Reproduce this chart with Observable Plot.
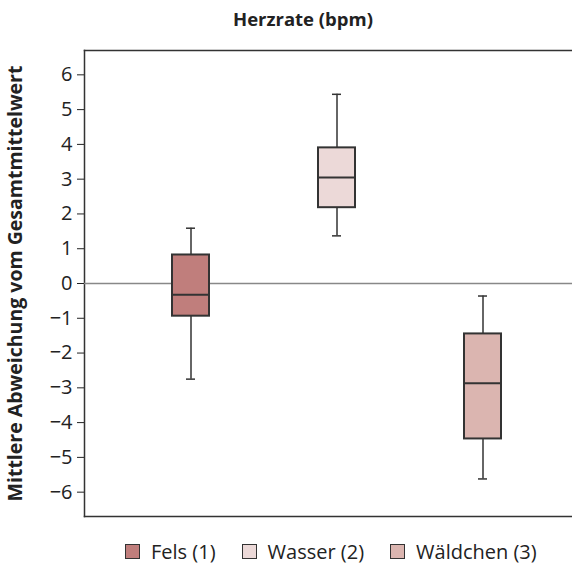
<!DOCTYPE html>
<html>
<head>
<meta charset="utf-8">
<script src="https://cdn.jsdelivr.net/npm/d3@7"></script>
<script src="https://cdn.jsdelivr.net/npm/@observablehq/plot@0.6"></script>
<style>
  html, body { margin: 0; padding: 0; background: #fff; overflow: hidden; }
  body { width: 572px; height: 566px; font-family: "Open Sans", Lato, sans-serif; color: #222; }
  #title { height: 40px; box-sizing: border-box; padding-top: 6px; padding-left: 34px; text-align: center; font-weight: bold; font-size: 18.5px; }
  #legend { display: flex; align-items: center; padding-left: 125px; margin-top: 12px; font-size: 20px; }
  .item { display: flex; align-items: center; margin-right: 26px; }
  .sw { width: 13px; height: 13px; border: 1px solid #333; margin-right: 11px; }
</style>
</head>
<body>
<div id="title">Herzrate (bpm)</div>
<div id="chart"></div>
<div id="legend"></div>
<script>
const categories = ["Fels (1)", "Wasser (2)", "Wäldchen (3)"];
const whiskerLow = [-2.75, 1.37, -5.62];
const q1 = [-0.94, 2.18, -4.47];
const median = [-0.32, 3.05, -2.87];
const q3 = [0.82, 3.90, -1.45];
const whiskerHigh = [1.59, 5.44, -0.36];
const colors = ["#c07e7c", "#ecd9d8", "#dbb5b0"];
const yTicks = [-6, -5, -4, -3, -2, -1, 0, 1, 2, 3, 4, 5, 6];
const yLabel = "Mittlere Abweichung vom Gesamtmittelwert";

const rows = categories.map((c, i) => ({
  cat: c, lo: whiskerLow[i], q1: q1[i], med: median[i], q3: q3[i], hi: whiskerHigh[i]
}));

const stroke = "#333";
const plot = Plot.plot({
  width: 572,
  height: 486,
  marginTop: 10,
  marginBottom: 10,
  marginLeft: 84,
  marginRight: 0,
  style: { fontFamily: "'Open Sans', Lato, sans-serif", fontSize: "20px", color: "#222" },
  x: { domain: categories, range: [171.5, 502], paddingInner: 0.748, paddingOuter: 0, axis: null },
  y: { domain: [-6.7, 6.7] },
  color: { domain: categories, range: colors },
  marks: [
    Plot.axisY({ ticks: yTicks, tickSize: 7, tickPadding: 5, fontSize: 20, label: yLabel, labelAnchor: "center", labelArrow: "none", labelOffset: 76 }),
    Plot.frame({ anchor: "left", stroke: stroke, strokeWidth: 1.5 }),
    Plot.frame({ anchor: "top", stroke: stroke, strokeWidth: 1.5 }),
    Plot.frame({ anchor: "bottom", stroke: stroke, strokeWidth: 1.5 }),
    Plot.ruleY([0], { stroke: "#888", strokeWidth: 1.5 }),
    Plot.ruleX(rows, { x: "cat", y1: "lo", y2: "hi", stroke: stroke, strokeWidth: 1.5 }),
    Plot.tickY(rows, { x: "cat", y: "lo", stroke: stroke, strokeWidth: 1.5, inset: 14 }),
    Plot.tickY(rows, { x: "cat", y: "hi", stroke: stroke, strokeWidth: 1.5, inset: 14 }),
    Plot.barY(rows, { x: "cat", y1: "q1", y2: "q3", fill: "cat", stroke: stroke, strokeWidth: 2 }),
    Plot.tickY(rows, { x: "cat", y: "med", stroke: stroke, strokeWidth: 2 })
  ]
});
plot.querySelectorAll('[aria-label="y-axis label"]').forEach(e => { e.setAttribute("font-weight", "bold"); e.setAttribute("font-size", "19.5px"); });
document.getElementById("chart").appendChild(plot);

const legend = document.getElementById("legend");
categories.forEach((c, i) => {
  const item = document.createElement("div");
  item.className = "item";
  const sw = document.createElement("div");
  sw.className = "sw";
  sw.style.background = colors[i];
  const t = document.createElement("span");
  t.textContent = c;
  item.appendChild(sw);
  item.appendChild(t);
  legend.appendChild(item);
});
</script>
</body>
</html>
